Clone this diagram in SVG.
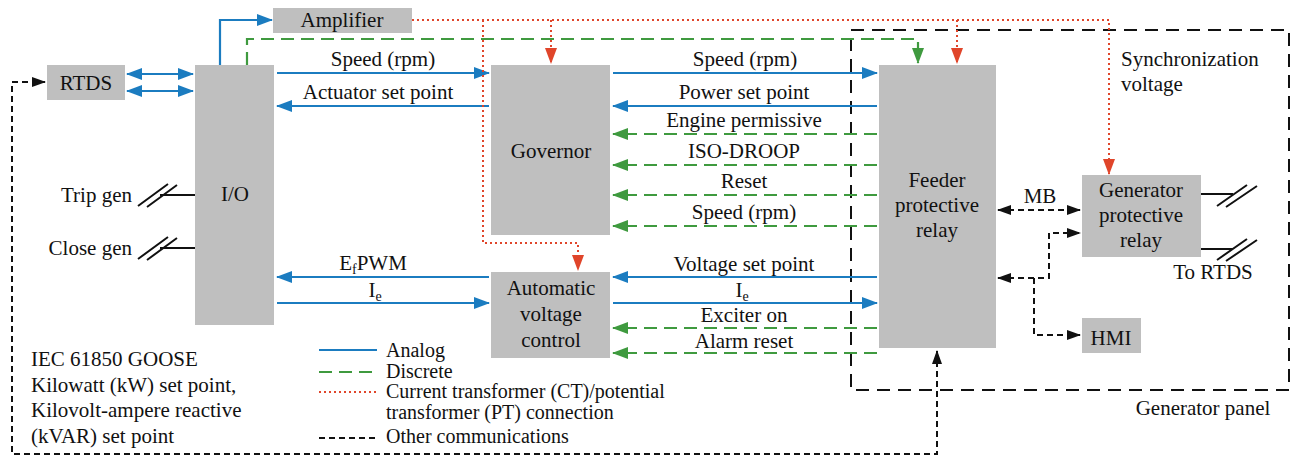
<svg xmlns="http://www.w3.org/2000/svg" width="1291" height="456" viewBox="0 0 1291 456">
<style>
text{font-family:'Liberation Serif',Tinos,'Times New Roman',Times,'Noto Serif','DejaVu Serif',FreeSerif,serif;font-size:21px;fill:#111}
.m{text-anchor:middle}
.e{text-anchor:end}
.lg{font-size:20px}
.box{fill:#bfbfbf}
.an{stroke:#1b7cc0;stroke-width:2.2;fill:none}
.di{stroke:#3f9a3f;stroke-width:2.2;fill:none;stroke-dasharray:13 7}
.ct{stroke:#e0452a;stroke-width:2;fill:none;stroke-dasharray:2 3}
.oc{stroke:#111;stroke-width:2;fill:none;stroke-dasharray:6 4}
.pn{stroke:#111;stroke-width:2;fill:none;stroke-dasharray:13 8}
.sl{stroke:#111;stroke-width:2;fill:none}
</style>
<defs>
<marker id="ab" markerUnits="userSpaceOnUse" markerWidth="16" markerHeight="14" refX="15" refY="6" orient="auto-start-reverse" viewBox="0 0 16 12"><path d="M0,0 L16,6 L0,12 z" fill="#1b7cc0"/></marker>
<marker id="ag" markerUnits="userSpaceOnUse" markerWidth="16" markerHeight="14" refX="15" refY="6" orient="auto-start-reverse" viewBox="0 0 16 12"><path d="M0,0 L16,6 L0,12 z" fill="#3f9a3f"/></marker>
<marker id="ar" markerUnits="userSpaceOnUse" markerWidth="16" markerHeight="14" refX="15" refY="6" orient="auto-start-reverse" viewBox="0 0 16 12"><path d="M0,0 L16,6 L0,12 z" fill="#e0452a"/></marker>
<marker id="ak" markerUnits="userSpaceOnUse" markerWidth="14" markerHeight="12" refX="13" refY="5" orient="auto-start-reverse" viewBox="0 0 14 10"><path d="M0,0 L14,5 L0,10 z" fill="#111"/></marker>
</defs>

<g id="generator-panel">
<rect class="pn" x="851" y="30" width="438" height="360"/>
<text class="m" x="1203" y="415" font-family="Liberation Serif, serif">Generator panel</text>
</g>

<g id="connectors">
<path class="an" d="M220,65 V20 H272" marker-end="url(#ab)"/>
<path class="an" d="M127,74 H193" marker-start="url(#ab)" marker-end="url(#ab)"/>
<path class="an" d="M127,91 H193" marker-start="url(#ab)" marker-end="url(#ab)"/>
<path class="an" d="M277,73 H489" marker-end="url(#ab)"/>
<path class="an" d="M489,106 H277" marker-end="url(#ab)"/>
<path class="an" d="M613,73 H877" marker-end="url(#ab)"/>
<path class="an" d="M877,106 H613" marker-end="url(#ab)"/>
<path class="an" d="M489,277 H277" marker-end="url(#ab)"/>
<path class="an" d="M277,303 H489" marker-end="url(#ab)"/>
<path class="an" d="M877,277 H613" marker-end="url(#ab)"/>
<path class="an" d="M613,303 H877" marker-end="url(#ab)"/>
<path class="di" d="M247,65 V39 H918 V63" marker-end="url(#ag)"/>
<path class="di" d="M877,134 H613" marker-end="url(#ag)"/>
<path class="di" d="M877,165 H613" marker-end="url(#ag)"/>
<path class="di" d="M877,195 H613" marker-end="url(#ag)"/>
<path class="di" d="M877,226 H613" marker-end="url(#ag)"/>
<path class="di" d="M877,328 H613" marker-end="url(#ag)"/>
<path class="di" d="M877,353 H613" marker-end="url(#ag)"/>
<path class="ct" d="M412,20 H1109 V174" marker-end="url(#ar)"/>
<path class="ct" d="M551,20 V63" marker-end="url(#ar)"/>
<path class="ct" d="M957,20 V63" marker-end="url(#ar)"/>
<path class="ct" d="M483,20 V243 H578 V270" marker-end="url(#ar)"/>
<path class="oc" d="M998,210 H1080" marker-start="url(#ak)" marker-end="url(#ak)"/>
<path class="oc" d="M998,278 H1049 V233 H1080" marker-start="url(#ak)" marker-end="url(#ak)"/>
<path class="oc" d="M1034,278 V335 H1080" marker-end="url(#ak)"/>
<path class="oc" d="M937,351 V454 H12 V82 H45" marker-start="url(#ak)" marker-end="url(#ak)"/>
<path class="sl" d="M160,195 H195 M138,206 L168,184 M147,207 L177,185"/>
<path class="sl" d="M160,248 H195 M138,259 L168,237 M147,260 L177,238"/>
<path class="sl" d="M1201,194 H1233 M1217,206 L1247,185 M1226,207 L1257,186"/>
<path class="sl" d="M1201,249 H1233 M1217,260 L1247,239 M1226,261 L1257,240"/>
</g>

<g id="amplifier"><rect class="box" x="273" y="8" width="139" height="25"/><text class="m" x="342" y="27">Amplifier</text></g>
<g id="rtds"><rect class="box" x="47" y="65" width="78" height="35"/><text class="m" x="86" y="90">RTDS</text></g>
<g id="io"><rect class="box" x="195" y="65" width="79" height="260"/><text class="m" x="235" y="201">I/O</text></g>
<g id="governor"><rect class="box" x="491" y="65" width="119" height="170"/><text class="m" x="551" y="158">Governor</text></g>
<g id="avc"><rect class="box" x="491" y="272" width="119" height="86"/>
<text class="m" x="551" y="295">Automatic</text><text class="m" x="551" y="321">voltage</text><text class="m" x="551" y="347">control</text></g>
<g id="feeder-relay"><rect class="box" x="879" y="65" width="117" height="283"/>
<text class="m" x="937" y="187">Feeder</text><text class="m" x="937" y="212">protective</text><text class="m" x="937" y="237">relay</text></g>
<g id="generator-relay"><rect class="box" x="1082" y="175" width="119" height="82"/>
<text class="m" x="1141" y="197">Generator</text><text class="m" x="1141" y="222">protective</text><text class="m" x="1141" y="247">relay</text></g>
<g id="hmi"><rect class="box" x="1082" y="318" width="59" height="35"/><text class="m" x="1111" y="345">HMI</text></g>

<g id="labels">
<text class="m" x="383" y="66">Speed (rpm)</text>
<text class="m" x="378" y="99">Actuator set point</text>
<text class="m" x="745" y="66">Speed (rpm)</text>
<text class="m" x="744" y="99">Power set point</text>
<text class="m" x="744" y="127">Engine permissive</text>
<text class="m" x="744" y="158">ISO-DROOP</text>
<text class="m" x="744" y="188">Reset</text>
<text class="m" x="744" y="219">Speed (rpm)</text>
<text class="m" x="373" y="270">E<tspan font-size="14" dy="4">f</tspan><tspan dy="-4">PWM</tspan></text>
<text class="m" x="375" y="297">I<tspan font-size="14" dy="4">e</tspan></text>
<text class="m" x="744" y="271">Voltage set point</text>
<text class="m" x="742" y="297">I<tspan font-size="14" dy="4">e</tspan></text>
<text class="m" x="744" y="322">Exciter on</text>
<text class="m" x="744" y="348">Alarm reset</text>
<text class="m" x="1040" y="203">MB</text>
<text x="1121" y="66">Synchronization</text>
<text x="1121" y="91">voltage</text>
<text class="m" x="1213" y="279">To RTDS</text>
<text class="e" x="132" y="202">Trip gen</text>
<text class="e" x="132" y="255">Close gen</text>
<text x="31" y="366">IEC 61850 GOOSE</text>
<text x="31" y="392">Kilowatt (kW) set point,</text>
<text x="31" y="417">Kilovolt-ampere reactive</text>
<text x="31" y="443">(kVAR) set point</text>
</g>

<g id="legend">
<line class="an" x1="319" y1="350" x2="377" y2="350"/>
<line class="di" x1="319" y1="372" x2="377" y2="372"/>
<line class="ct" x1="319" y1="392" x2="377" y2="392"/>
<line class="oc" x1="319" y1="438" x2="377" y2="438"/>
<text class="lg" x="386" y="357">Analog</text>
<text class="lg" x="386" y="378">Discrete</text>
<text class="lg" x="386" y="398">Current transformer (CT)/potential</text>
<text class="lg" x="386" y="419">transformer (PT) connection</text>
<text class="lg" x="386" y="443">Other communications</text>
</g>
</svg>
